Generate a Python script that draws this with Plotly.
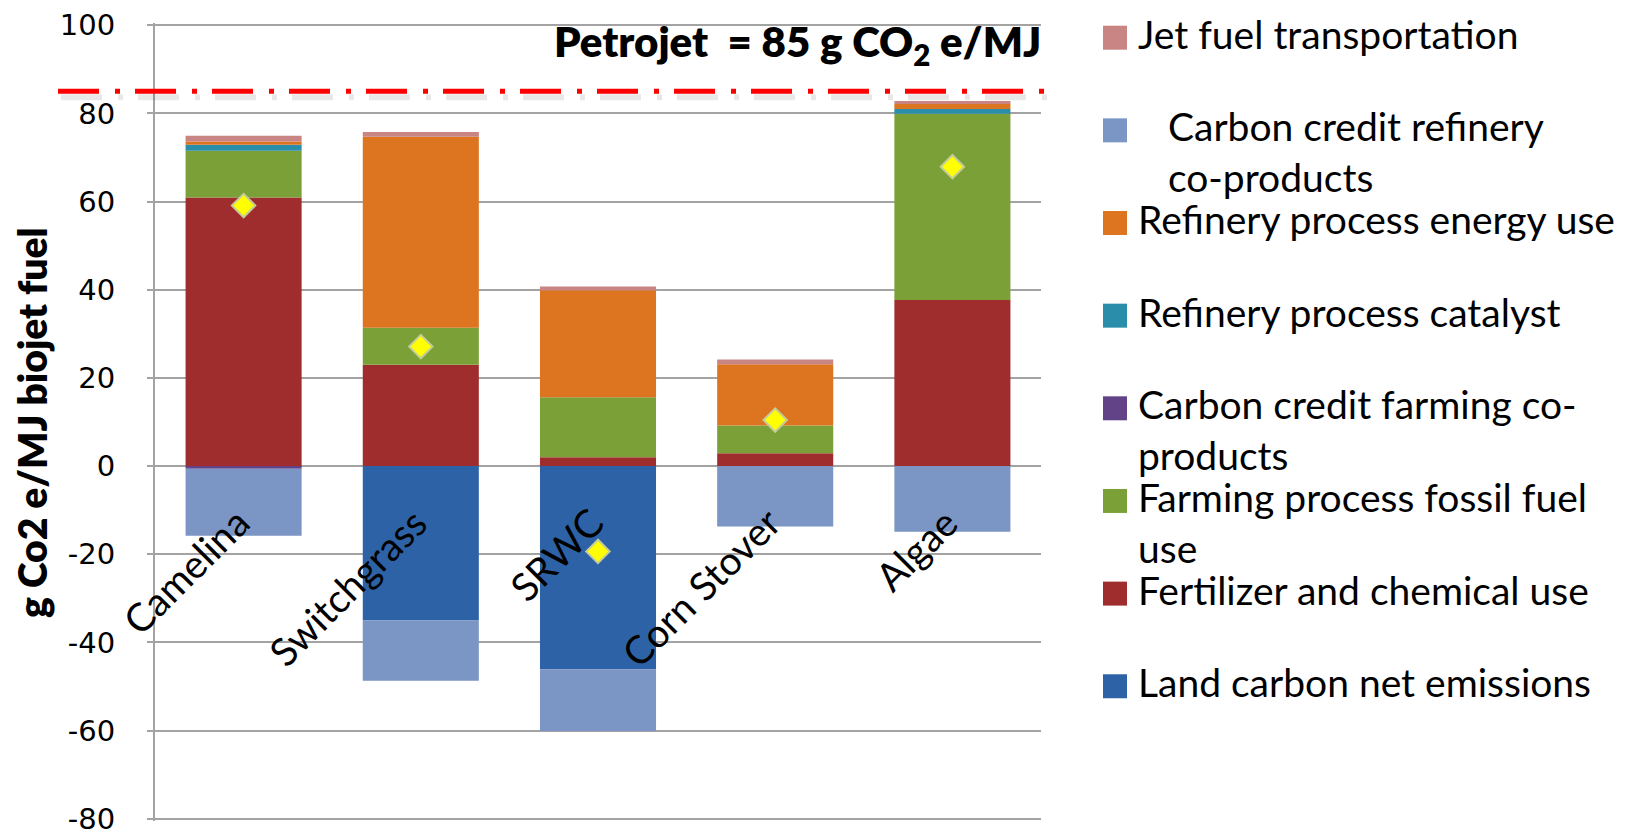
import numpy as np
import plotly.graph_objects as go

# ---- data -------------------------------------------------------------
categories = ["Camelina", "Switchgrass", "SRWC", "Corn Stover", "Algae"]

land_carbon = [0.0, -35.0, -46.1, 0.0, 0.0]
fertilizer = [60.9, 23.0, 2.0, 2.9, 37.7]
farming_fossil = [10.6, 8.4, 13.6, 6.3, 42.2]
credit_farming = [-0.6, 0.0, 0.0, 0.0, 0.0]
refinery_catalyst = [1.4, 0.0, 0.0, 0.0, 1.1]
refinery_energy = [0.7, 43.3, 24.3, 13.9, 1.1]
credit_refinery = [-15.2, -13.7, -14.0, -13.7, -14.9]
jet_transport = [1.3, 1.1, 0.85, 1.05, 0.7]

petrojet_value = 85

y_tick_values = [-80, -60, -40, -20, 0, 20, 40, 60, 80, 100]
y_tick_labels = ["-80", "-60", "-40", "-20", "0", "20", "40", "60", "80", "100"]

# series in stacking order (first = nearest the zero line)
series = [
    ("Land carbon net emissions", land_carbon, "#2D63A6"),
    ("Fertilizer and chemical use", fertilizer, "#A02D2D"),
    ("Farming process fossil fuel use", farming_fossil, "#7CA038"),
    ("Carbon credit farming co-products", credit_farming, "#634388"),
    ("Refinery process catalyst", refinery_catalyst, "#2A8DAA"),
    ("Refinery process energy use", refinery_energy, "#DC7420"),
    ("Carbon credit refinery co-products", credit_refinery, "#7B95C4"),
    ("Jet fuel transportation", jet_transport, "#C98583"),
]

NB = "\u00a0"
# legend text as laid out beside the chart (top entry first)
legend_text = {
    "Jet fuel transportation": "Jet fuel transportation",
    "Carbon credit refinery co-products":
        NB * 3 + "Carbon credit refinery<br>" + NB * 3 + "co-products",
    "Refinery process energy use": "Refinery process energy use",
    "Refinery process catalyst": "Refinery process catalyst",
    "Carbon credit farming co-products": "Carbon credit farming co-<br>products",
    "Farming process fossil fuel use": "Farming process fossil fuel<br>use",
    "Fertilizer and chemical use": "Fertilizer and chemical use",
    "Land carbon net emissions": "Land carbon net emissions",
}

net_total = np.sum([s[1] for s in series], axis=0)

# ---- page geometry (pixels) ------------------------------------------
W, H = 1640, 832
Y_MIN, Y_MAX, Y_PAD = -80, 100, 0.5
Y_TOP_PX, Y_BOT_PX = 25, 819          # where 100 and -80 sit
UNIT = (Y_BOT_PX - Y_TOP_PX) / (Y_MAX - Y_MIN)
PL, PR = 155, 1041
PT = Y_TOP_PX - Y_PAD * UNIT
PB = Y_BOT_PX + Y_PAD * UNIT


def px_x(p):
    return (p - PL) / (PR - PL)


def px_y(p):
    return (PB - p) / (PB - PT)


TEXT_FONT = "Lato, Carlito, sans-serif"
FS = 39

fig = go.Figure()

for name, vals, color in series:
    fig.add_trace(go.Bar(
        x=categories, y=vals, name=name,
        marker=dict(color=color, line=dict(width=0)),
        showlegend=False,
    ))

fig.add_trace(go.Scatter(
    x=categories, y=net_total, mode="markers", name="Net",
    marker=dict(symbol="diamond", size=18, color="#FFFF00",
                line=dict(color="#C4CC98", width=2)),
    showlegend=False,
))

annotations = []
shapes = []

# category labels, slanted, hanging below the zero line
for c in categories:
    annotations.append(dict(
        x=c, y=0, xref="x", yref="y", text=c, showarrow=False,
        textangle=-45, xanchor="right", yanchor="top",
        xshift=17, yshift=-30,
        font=dict(family=TEXT_FONT, size=FS, color="black"),
    ))

# y axis title
annotations.append(dict(
    x=px_x(32), y=px_y(423), xref="paper", yref="paper",
    text="g Co2 e/MJ biojet fuel", showarrow=False, textangle=-90,
    xanchor="center", yanchor="middle",
    font=dict(family=TEXT_FONT, size=39, color="black", weight=800),
))

# petroleum jet fuel reference line and its label
annotations.append(dict(
    x=px_x(1043), y=px_y(44), xref="paper", yref="paper",
    text=f"Petrojet {NB}= {petrojet_value} g CO<sub>2</sub> e/MJ",
    showarrow=False, xanchor="right", yanchor="middle",
    font=dict(family=TEXT_FONT, size=42, color="black", weight=800),
))
dash = "41px,16px,5px,15px"
shapes.append(dict(
    type="line", xref="paper", yref="y", ysizemode="pixel",
    yanchor=petrojet_value, y0=-6, y1=-6,
    x0=px_x(61), x1=px_x(1061),
    line=dict(color="rgba(0,0,0,0.09)", width=6, dash=dash),
))
shapes.append(dict(
    type="line", xref="paper", yref="y",
    x0=px_x(58), x1=px_x(1058), y0=petrojet_value, y1=petrojet_value,
    line=dict(color="#FF0000", width=5, dash=dash),
))

# legend drawn beside the plot, one row every ~93 px
LINE_H = 1.3 * FS
row_y0, row_step = 37.5, 92.7
for i, (name, vals, color) in enumerate(reversed(series)):
    cy = row_y0 + i * row_step
    shapes.append(dict(
        type="rect", xref="paper", yref="paper",
        x0=px_x(1103), x1=px_x(1127), y0=px_y(cy + 12), y1=px_y(cy - 12),
        fillcolor=color, line=dict(width=0),
    ))
    txt = legend_text[name]
    n_lines = txt.count("<br>") + 1
    annotations.append(dict(
        x=px_x(1136), y=px_y(cy - 4 + (n_lines - 1) * LINE_H / 2),
        xref="paper", yref="paper", text=txt, showarrow=False,
        xanchor="left", yanchor="middle", align="left",
        font=dict(family=TEXT_FONT, size=FS, color="black"),
    ))

fig.update_layout(
    width=W, height=H,
    margin=dict(l=PL, r=W - PR, t=PT, b=H - PB, pad=0, autoexpand=False),
    paper_bgcolor="white", plot_bgcolor="white",
    barmode="relative", bargap=0.345,
    showlegend=False,
    annotations=annotations, shapes=shapes,
    xaxis=dict(range=[-0.5, 4.5], showticklabels=False, showgrid=False,
               showline=False, zeroline=False, ticks="", automargin=False),
    yaxis=dict(range=[Y_MIN - Y_PAD, Y_MAX + Y_PAD],
               tickvals=y_tick_values, ticktext=y_tick_labels,
               showgrid=True, gridcolor="#A3A3A3", gridwidth=2,
               showline=True, linecolor="#A3A3A3", linewidth=2,
               ticks="outside", ticklen=6, tickcolor="#A3A3A3", tickwidth=2,
               ticklabelstandoff=26, ticklabeloverflow="allow", zeroline=False,
               automargin=False,
               tickfont=dict(family="DejaVu Sans", size=29, color="black")),
)

fig.write_html("out.html")
